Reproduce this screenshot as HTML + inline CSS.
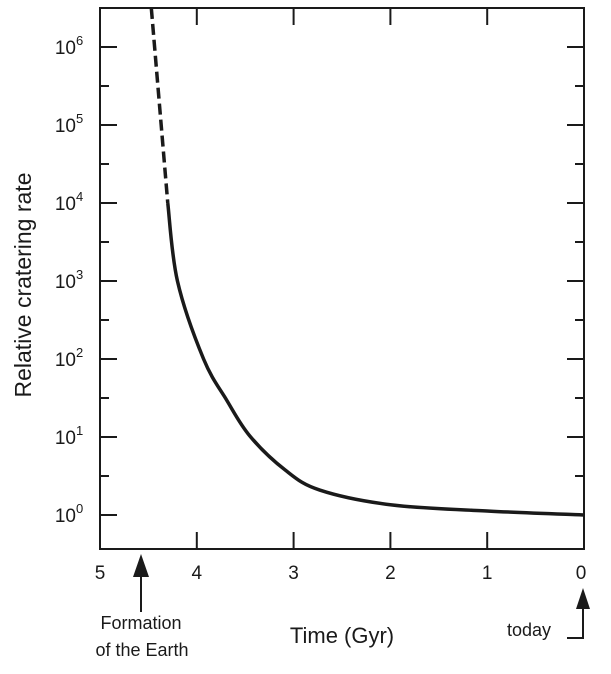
<!DOCTYPE html>
<html><head><meta charset="utf-8"><style>
body{margin:0;background:#fff}
text{font-family:"Liberation Sans",Arial,sans-serif;fill:#1a1a1a}
</style></head><body>
<svg id="chart" width="611" height="669" viewBox="0 0 611 669" xmlns="http://www.w3.org/2000/svg">
<rect x="100" y="8" width="484" height="541" fill="none" stroke="#1a1a1a" stroke-width="2"/>
<g id="ticks"></g>
<g id="curve"></g>
<text transform="translate(31,285) rotate(-90)" text-anchor="middle" font-size="23">Relative cratering rate</text>
<text x="342" y="643" text-anchor="middle" font-size="22">Time (Gyr)</text>
<g>
<line x1="141" y1="612" x2="141" y2="572" stroke="#1a1a1a" stroke-width="2"/>
<path d="M141,554 L133,577 L149,577 Z" fill="#1a1a1a"/>
<text x="141" y="629" text-anchor="middle" font-size="18">Formation</text>
<text x="142" y="656" text-anchor="middle" font-size="18">of the Earth</text>
</g>
<g>
<path d="M567,638 L583,638 L583,606" fill="none" stroke="#1a1a1a" stroke-width="2"/>
<path d="M583,588 L576,609 L590,609 Z" fill="#1a1a1a"/>
<text x="529" y="636" text-anchor="middle" font-size="18">today</text>
</g>
</svg>
<script>
const xTicks=[5,4,3,2,1,0];
const yDecades=[0,1,2,3,4,5,6];
const curveT=[4.47,4.30,4.20,3.93,3.69,3.45,3.09,2.73,1.99,0.98,0.0];
const curveLog=[6.5,4.0,3.0,2.0,1.47,1.01,0.58,0.32,0.13,0.05,0.0];
const dashedUntil=4.30;
const NS="http://www.w3.org/2000/svg";
const X=t=>100+(5-t)*96.8;
const Y=l=>515-l*78;
function mk(tag,attrs,parent){const e=document.createElementNS(NS,tag);for(const k in attrs)e.setAttribute(k,attrs[k]);parent.appendChild(e);return e;}
const tg=document.getElementById('ticks');
xTicks.forEach(t=>{
 const x=X(t);
 if(t<5&&t>0){
  const b=mk('line',{x1:x,y1:549,x2:x,y2:532,stroke:'#1a1a1a','stroke-width':2},tg);
  
  
  const tp=mk('line',{x1:x,y1:8,x2:x,y2:25,stroke:'#1a1a1a','stroke-width':2},tg);
  
  
 }
 const lb=mk('text',{x:x-(t==0?3:0),y:579,'text-anchor':'middle','font-size':19},tg);
 lb.textContent=t;
 
 
});
yDecades.forEach(d=>{
 const y=Y(d);
 [[100,117],[584,567]].forEach(p=>{
  const l=mk('line',{x1:p[0],y1:y,x2:p[1],y2:y,stroke:'#1a1a1a','stroke-width':2},tg);
  
  
 });
 const ym=Y(d+0.5);
 if(ym>8){[[100,109],[584,575]].forEach(p=>{
  const l=mk('line',{x1:p[0],y1:ym,x2:p[1],y2:ym,stroke:'#1a1a1a','stroke-width':2},tg);
  
  
 });}
 const lb=mk('text',{x:69,y:y+7,'text-anchor':'middle','font-size':19},tg);
 lb.innerHTML='10<tspan dy="-9" font-size="13">'+d+'</tspan>';
 
 
});
const cg=document.getElementById('curve');
function pathFor(ts,ls){
 const pts=ts.map((t,i)=>[X(t),Y(ls[i])]);
 let d='M'+pts[0][0]+','+pts[0][1];
 for(let i=0;i<pts.length-1;i++){
  const p0=pts[Math.max(i-1,0)],p1=pts[i],p2=pts[i+1],p3=pts[Math.min(i+2,pts.length-1)];
  d+=' C'+(p1[0]+(p2[0]-p0[0])/6)+','+(p1[1]+(p2[1]-p0[1])/6)+' '+(p2[0]-(p3[0]-p1[0])/6)+','+(p2[1]-(p3[1]-p1[1])/6)+' '+p2[0]+','+p2[1];
 }
 return d;
}
const di=curveT.findIndex(t=>t<=dashedUntil);
const dash=mk('path',{d:pathFor(curveT.slice(0,di+1),curveLog.slice(0,di+1)),fill:'none',stroke:'#1a1a1a','stroke-width':3.5,'stroke-dasharray':'11 5'},cg);


const sol=mk('path',{d:pathFor(curveT.slice(di),curveLog.slice(di)),fill:'none',stroke:'#1a1a1a','stroke-width':3.5},cg);


</script>
</body></html>
